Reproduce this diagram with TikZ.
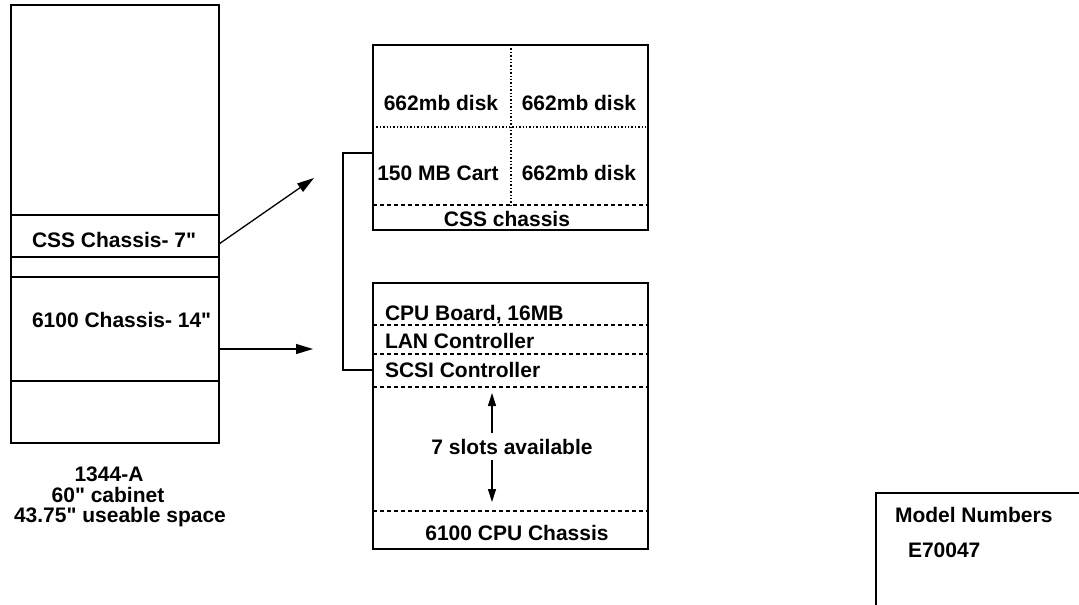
\documentclass[tikz,border=0pt]{standalone}
\usepackage{fontspec}
\setmainfont{Liberation Sans}[Ligatures=TeXOff]
\usetikzlibrary{arrows.meta}
\tikzset{
  lbl/.style={font=\fontsize{21}{21}\selectfont\bfseries, inner sep=0pt, outer sep=0pt},
  boxshape/.style={draw, line width=1.4pt, inner sep=0pt, outer sep=0pt, anchor=north west},
  solidline/.style={line width=1.3pt},
  dashline/.style={line width=1.1pt, dash pattern=on 4pt off 3pt},
  dotline/.style={line width=1.1pt, dash pattern=on 1.4pt off 2pt},
  bigarrow/.style={line width=1.3pt, -{Triangle[length=17pt,width=10pt]}},
  smallarrow/.style={line width=1.2pt, -{Triangle[length=13pt,width=8pt]}},
}
\begin{document}
\begin{tikzpicture}[x=1pt,y=-1pt]
\useasboundingbox (0,0) rectangle (1079,605);

% cabinet
\node[boxshape, minimum width=208pt, minimum height=438pt] (cab) at (11,5) {};
\foreach \yy in {215,257,277,381}{
  \draw[solidline] (11,\yy) -- (219,\yy);
}
\node[lbl, anchor=base west] (csslbl) at (32,247) {CSS Chassis- 7"};
\node[lbl, anchor=base west] (cpulbl) at (32,327) {6100 Chassis- 14"};
\node[lbl, anchor=base] (cabA) at (109,481) {1344-A};
\node[lbl, anchor=base] (cabB) at (108,502) {60" cabinet};
\node[lbl, anchor=base] (cabC) at (120,522) {43.75" useable space};

% arrows from cabinet
\coordinate (a1s) at (219,244);
\coordinate (a1e) at (314,178);
\coordinate (a2s) at (219,349);
\coordinate (a2e) at (313,349);
\draw[bigarrow] (a1s) -- (a1e);
\draw[bigarrow] (a2s) -- (a2e);

% CSS box
\node[boxshape, minimum width=275pt, minimum height=185pt] (css) at (373,45) {};
\draw[dotline] (511,45) -- (511,205);
\draw[dotline] (373,127) -- (648,127);
\draw[dashline] (373,205) -- (648,205);
\node[lbl, anchor=base] (d1) at (441,110) {662mb disk};
\node[lbl, anchor=base] (d2) at (579,110) {662mb disk};
\node[lbl, anchor=base] (cart) at (438,180) {150 MB Cart};
\node[lbl, anchor=base] (d3) at (579,180) {662mb disk};
\node[lbl, anchor=base] (cssch) at (507,226) {CSS chassis};

% CPU box
\node[boxshape, minimum width=275pt, minimum height=266pt] (cpu) at (373,283) {};
\foreach \yy in {325,354,387,511}{
  \draw[dashline] (373,\yy) -- (648,\yy);
}
\node[lbl, anchor=base west] (board) at (385,320) {CPU Board, 16MB};
\node[lbl, anchor=base west] (lan) at (385,348) {LAN Controller};
\node[lbl, anchor=base west] (scsi) at (385,377) {SCSI Controller};
\node[lbl, anchor=base] (slots) at (512,454) {7 slots available};
\node[lbl, anchor=base] (cpuch) at (517,540) {6100 CPU Chassis};
\coordinate (up1) at (492,433);
\coordinate (up2) at (492,393);
\coordinate (dn1) at (492,460);
\coordinate (dn2) at (492,502);
\draw[smallarrow] (up1) -- (up2);
\draw[smallarrow] (dn1) -- (dn2);

% bracket between boxes
\coordinate (b1) at (343,153);
\coordinate (b2) at (343,370);
\draw[solidline] (css.west |- b1) -- (b1) -- (b2) -- (cpu.west |- b2);

% model numbers box (cut off)
\coordinate (m1) at (1079,493);
\coordinate (m2) at (876,493);
\coordinate (m3) at (876,605);
\draw[solidline] (m1) -- (m2) -- (m3);
\node[lbl, anchor=base west] (mn) at (895,522) {Model Numbers};
\node[lbl, anchor=base west] (mnum) at (908,557) {E70047};
\end{tikzpicture}
\end{document}
